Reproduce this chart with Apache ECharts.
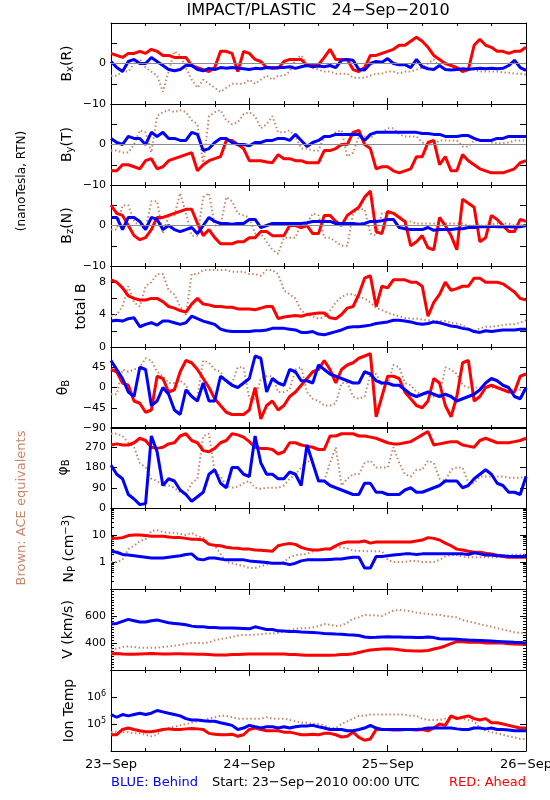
<!DOCTYPE html>
<html><head><meta charset="utf-8">
<script src="https://cdn.jsdelivr.net/npm/echarts@6/dist/echarts.min.js"></script>
<style>html,body{margin:0;padding:0;background:#fff}#c{width:550px;height:800px}</style>
</head><body><div id="c"></div>
<script>
// ---------- data (hourly, 23-Sep 00:00 .. 26-Sep 00:00) ----------
const dayLabels = ['23−Sep', '24−Sep', '25−Sep', '26−Sep'];
const titleText = 'IMPACT/PLASTIC   24−Sep−2010';

const bxBehind = [0.5,-1,-2,0.5,1,0,0,1.5,0.5,-0.5, -1.5,-1.8,-1.5,-0.5,-0.5,-1.5,-1.8,-1.2,-1.5,-1, -1.2,-1,-1.2,-1.3,-1.5,-1.2,-1.3,-1,-1.2,-1, -1,-0.8,-1.2,-0.8,-0.5,-0.8,-0.6,-0.8,-0.5,-1, 0.8,1,0.8,-1.5,-1.6,0,0.5,0.3,1.2,0, -0.3,-0.3,-1,1,-0.8,-1.3,-1.5,-0.5,-1.5,-1.6, -1.5,-1.3,-1.4,-1.3,-1.2,-1.3,-1.2,-1.3,-1.2,-0.5, 0.8,-1,-1.7];
const bxAhead = [2.5,2,1.5,2.5,2.5,3,2.5,3.5,3,2, 2,1.5,1.5,1.5,-0.5,-1,-1.5,-2,-1,3, 3,2.5,-2,3,2.5,1,0.5,-1,-1,-1.2, 0.5,1,1,1,-0.5,-0.5,-0.3,1.5,3.5,1, 1,1,-1.5,-2,-1,2,2,2.5,3,3.5, 4.5,4.5,5.5,6.5,5.5,4,2,1,0,-0.5, -1,-2,-1.5,4.5,6,4.5,4,3,3,2.5, 3,3,4];
const bxAce = [-3,-3,-2,-2,0,1,-1,-2,-3,-7, -2,3,2,-1,-4,-6,-4,-5,-6,-7, -6,-5,-5,-5,-4,-5,-4,-3,-4,-3, -3,-2,1,2,0,-1,-1.5,-2,-2,-2.5, -2.5,-2.5,-3.5,-3.5,-3.5,-3,-2.5,-2.5,-2,-2, -2.5,-2,-2,-1.5,-1,0,1,-1,-1.5,-1.5, -1.5,-1.5,-1.5,-1.5,-2,-2,-2,-2,-2.2,-2.3, -2.5,-2.5,-2.7];

const byBehind = [1.5,0.5,0,2,1.5,1.5,0,3,2,3, 1.5,1.5,1,1,3,2.5,-1.5,-1,0.5,1.5, 1.5,0.5,0,0,-0.3,0.5,0.5,1,1, 1.5,1.5,1,2.5,1,-0.5,0.5,1,2,2,2.5, 2.5,2.5,2.5,2.5,1,2.5,3,3,3,3, 3,3,3,3,2.7,2.7,2.5,2.5,2,2, 2,2.2,2.2,1.5,1,1,1,1.5,1.5,2, 2,2,2];
const byAhead = [-6.5,-6.5,-5,-5,-5.5,-6,-4,-3.5,-6,-5.5, -4,-3.5,-3,-2.5,-2,-6.5,-5,-4,-3.5,-3, 1,1,0,-1,-4,-4,-4,-4.3,-4.5, -2.5,-3.5,-3.5,-4,-4,-4.5,-4.5,-4.5,-1.5,-1.5,-1, 0,0,3,3.5,0,-1,-6,-5.5,-5.5,-6.5, -7,-6.5,-6,-3,-3,0.5,1,-5,-3,-6.5, -6.5,-2.5,-4,-5,-6,-6.5,-7,-7,-7,-6.5, -6,-4.5,-4];
const byAce = [-1.5,-1.5,-2,-2,0,3.5,3,-2,7,8, 8.5,8,8.5,8,6,5,-5,7,8,8.5, 6,5,5.5,7.5,8,7,4,5,7, 3,3,3.5,2,-1,-1,-1.5,-1.5,2,2,3, 3.5,-3,-2,2,2,1.5,3,3,4,4, 2.5,2,2,2,0.5,0,0,1,1,1, 1,-0.5,-0.5,1,1,1,0.5,0.3,0.3,0.5, 1,1,1];

const bzBehind = [2,2,-1,2,2,1,-1,2,1.5,-1, 0,-1,-1.5,-1,-0.5,-2,0,2,1,0.5, 0.5,0.3,0.5,0.5,1.5,1.5,-0.5,0,0.5, 0.5,0.5,0.5,0.5,0.5,0.7,1,1,1,1,0.5, 0.5,0.5,0.5,0.3,0.5,1,1,1.2,1.5,1.5, -0.5,-0.8,-1,-1,-1,-0.5,-1.2,-1,-1,-1, -0.8,-0.8,-0.5,-0.5,-0.3,-0.3,-0.2,-0.3,-0.3,-0.3, -0.4,-0.3,0];
const bzAhead = [5,3,2.5,0,-2.5,-3.5,-3,-1,2,2, 2.5,3,3.5,4,4,0.5,-2.5,-1,-3,-4.5, -4.5,-4.5,-4,-4,-3,-3,-1.5,-1.5,-2.5, -2.5,-2.5,0,0,-0.5,0,-2,-2,2.5,2.5,1, 0,2.5,3.5,4.5,7,8.5,-1.5,-2,3.5,3, 2,1,-5,-4,-2.5,-5.5,-6,2,0,-2.5, -6,6.5,5.5,4.5,-4,-3,2.5,1.5,0,-1.5, -1.5,1.5,1];
const bzAce = [-1,-1,5,5,1,0,-1,6,6,-2, 2.5,2.5,8,3,-2.5,-2.5,7,8,0,0, 7,6,3,2.5,2,-2,-2,-4,-6, -7,-3,-3,-3,0.5,0.5,3,2.5,-3,-3,-4, -5,-5,3,4,4,-2,-2.5,3,3,3, 2.5,1,1,0.5,0.5,0.5,0.5,0.5,0.5,0.5, 0.5,0.5,0,0,0,0,0.3,0.5,0.5,0.5, 0,0,0];

const btBehind = [3.2,3.3,3.2,3.5,3.6,2.5,2.8,3,2.7,3.2, 3.2,3,2.8,3,3.8,3.5,3.2,3,2.8,2.2, 2,1.9,1.9,1.9,1.9,2,2,2.1,2.3, 2.3,2.3,2.2,2.1,1.8,1.8,1.9,1.6,1.5,1.7,1.9, 2.1,2.4,2.5,2.5,2.6,2.7,2.9,3,3.1,3.3, 3.3,3.2,3.1,2.9,2.8,2.9,3.1,3,2.8,2.6, 2.5,2.3,2.2,1.9,1.8,2,1.9,2,2.1,2.1, 2.1,2.2,2.2];
const btAhead = [8.3,8,7.3,6.3,6,5.8,5.8,6,6,5.6, 5,4.8,4.5,4.3,5.3,6,5.3,5.2,5,5, 4.9,4.9,4.7,4.7,4.7,4.6,4.8,5,5, 3.5,3.7,3.8,3.9,3.8,4,4.1,4.2,4.2,3.6,3.5, 4,4.8,5,6.5,8.5,8.8,5,7.5,7.3,8.3, 8.3,8.3,8,8,7.5,3.8,5.5,6.5,8,7, 7.2,7.5,7.5,8.5,8.5,8,8,8,7.8,7.3, 6.8,6,5.8];
const btAce = [3.8,4,5,7.5,5.5,5,7.5,8,9,9, 7,6.5,5,4,9,9,9.5,9.5,9.5,9.5, 9.5,9.3,9.3,9.3,9,9,8.8,9.5,9.5, 9,7,6.5,6,4.5,4,3.8,3.5,3.7,4.5,5.5, 6.2,6.5,6.5,6.2,6,5.5,4.8,4.6,4.2,4, 3.8,3.6,3.5,3.5,3.4,3.3,3.2,3.2,3.2,3, 2.9,2.7,2.2,2,2.3,2.5,2.5,2.6,2.7,2.8, 2.8,3,3.3];

const thBehind = [60,40,20,-10,-20,45,40,-40,-30,0, -15,-50,-60,-5,-20,-30,10,-30,-30,25, 15,5,0,10,20,70,65,-10,20, 10,5,40,35,15,15,10,50,40,30,25, 20,15,10,10,35,30,15,10,10,5, 5,-5,-15,-20,-15,-10,-15,-20,-15,-20, -30,-25,-20,-15,-5,10,20,15,5,0, -20,-25,0];
const thAhead = [40,35,10,5,-30,-35,-55,-50,25,20, -10,-5,35,60,55,40,20,0,-25,-40, -55,-60,-60,-60,-50,0,-70,-40,-30, -50,-40,-20,-10,5,20,35,40,60,40,10, 40,50,55,65,70,75,-65,-20,25,25, 20,-10,-25,-40,-45,-30,20,10,-40,-65, -20,55,60,-30,-20,0,5,0,-5,-10, -10,25,30];
const thAce = [-15,-15,40,35,40,45,65,60,35,25, 10,10,15,5,-20,-20,60,55,40,35, 10,10,45,45,-25,-25,20,25,25, -10,-10,-5,40,45,-10,-25,-30,-40,-40,-35, 10,10,-20,-25,-20,30,30,5,5,50, 45,10,5,-10,-15,-15,-20,-20,45,40, 30,5,0,0,0,0,0,0,-5,-5, -5,-5,-5];

const phBehind = [190,150,130,60,40,15,20,320,250,100, 130,120,80,60,30,50,70,150,170,110, 90,180,180,150,140,320,200,150,150, 130,130,160,150,100,280,200,120,120,100,90, 80,70,60,60,110,110,70,70,60,60, 60,80,90,70,70,80,90,100,120,120, 120,90,100,130,150,170,150,110,100,70, 70,60,140];
const phAhead = [280,285,280,280,290,310,300,270,265,270, 285,290,320,330,300,290,255,250,265,290, 300,330,325,315,295,270,265,265,260, 240,250,290,290,280,275,270,260,260,320,320, 330,330,330,320,320,315,310,300,290,285, 285,290,295,310,325,340,280,285,290,295, 295,280,275,270,300,310,300,290,290,290, 295,300,310];
const phAce = [330,330,320,290,270,200,180,130,120,100, 100,90,70,60,110,130,320,330,160,140, 100,90,95,110,120,90,85,90,90, 90,100,130,150,180,210,200,130,120,200,270, 100,130,150,150,200,210,180,180,180,270, 200,150,140,170,170,210,200,130,120,170, 180,180,110,110,140,140,140,140,140,135, 135,135,140];

const npBehind = [2.5,2.3,1.9,1.8,1.7,1.6,1.5,1.4,1.4,1.4, 1.5,1.6,1.7,1.9,2,1.3,1.2,1.4,1.4,1.3, 1.2,1.2,1.2,1.2,1.1,1.05,1,0.95,0.9, 0.9,0.9,0.8,0.9,1.1,1.2,1.2,1.2,1.2,1.25,1.3, 1.3,1.4,1.5,1.5,0.6,0.6,1.6,1.6,1.7,1.8, 1.9,2,2,1.9,2,2,2,2,2,2, 2,2,1.9,2.2,2,1.8,1.8,1.7,1.7,1.6, 1.6,1.6,1.6];
const npAhead = [7.5,7.5,8,9.5,10,10,9.5,9,9,9, 8.5,8,8,7.5,7,7,6.5,4.5,4.2,4, 3.5,3.3,3.2,3,3,2.8,2.7,2.6,2.5, 4,4.5,4.8,4.5,3.5,3,2.8,2.8,3,3,4, 5,5.5,5.5,5.5,6,5,5.5,5.5,5.5,5.5, 5.5,5.5,5.5,6,6.5,8,7.5,6.5,5,4, 3,2.8,2.5,2.3,2.3,2.1,2,1.8,1.6,1.5, 1.5,1.5,1.5];
const npAce = [1,1,1.2,3,4,6,7,14,15,13, 12,12,11,10,12,9,8,5,4,2, 1,0.9,0.8,0.7,0.6,0.6,0.7,0.8,0.9, 0.9,1,1.5,1.8,1.9,2,2.5,2.7,3,3.2,3.5, 3.5,3.2,2.6,2.6,2.5,2.5,2.5,2.5,1.2,1, 1,1,1.1,1.1,1,1,1,1.2,1.6,1.8, 1.8,1.6,1.5,1.5,1.5,1.5,1.5,1.5,1.6,1.8, 1.9,1.9,1.9];

const vBehind = [540,545,560,575,565,555,555,565,570,560, 550,545,540,535,525,520,520,515,515,512, 512,512,510,508,505,520,510,500,500, 490,488,485,485,482,480,478,475,470,468,466, 465,462,460,455,445,440,442,445,446,445, 445,443,442,440,440,445,440,432,430,430, 428,425,422,420,418,416,414,412,410,408, 405,403,400];
const vAhead = [320,322,318,316,316,318,320,322,320,318, 318,320,320,318,318,316,316,314,312,312, 312,314,314,316,318,318,318,318,318, 318,318,315,314,312,310,310,310,310,310,312, 315,315,320,330,340,348,352,355,358,356, 350,345,342,340,340,345,355,365,378,395, 410,410,405,405,405,400,400,400,400,395, 392,390,390];
const vAce = [350,360,370,375,370,365,365,365,365,370, 375,380,385,395,400,400,398,405,420,430, 435,445,455,460,460,462,465,470,470, 475,485,495,505,510,510,515,525,540,535,525, 530,550,580,590,610,605,605,600,620,640, 645,640,635,625,620,615,610,610,600,595, 590,570,560,550,540,530,520,510,500,490, 480,475,470];

const tBehind = [2.24e5,1.78e5,2.24e5,2.0e5,2.24e5,2.51e5,2.24e5,2.51e5,3.16e5,2.82e5, 2.51e5,2.24e5,2.0e5,1.58e5,1.41e5,1.41e5,1.32e5,1.26e5,1.26e5,1.12e5, 1.0e5,8.9e4,6.3e4,7.1e4,8.9e4,7.9e4,7.1e4,7.9e4,7.9e4, 7.1e4,7.9e4,7.1e4,7.9e4,8.5e4,8.5e4,8.9e4,7.9e4,7.1e4,6.3e4,6.3e4, 6.3e4,5.6e4,5.6e4,6.3e4,7.1e4,8.9e4,7.1e4,6.3e4,6.3e4,6.3e4, 6.3e4,6.3e4,6.3e4,6.3e4,6.6e4,7.1e4,7.1e4,7.1e4,7.1e4,7.1e4, 6.6e4,6.3e4,6.3e4,7.1e4,7.1e4,6.6e4,7.1e4,6.3e4,6.3e4,6.0e4, 5.6e4,5.6e4,5.6e4];
const tAhead = [4.0e4,4.0e4,6.3e4,7.1e4,6.3e4,5.6e4,5.2e4,5.2e4,5.6e4,6.3e4, 6.6e4,6.3e4,6.3e4,6.6e4,6.8e4,6.6e4,6.3e4,4.5e4,4.2e4,4.0e4, 4.0e4,4.2e4,3.5e4,4.0e4,6.3e4,7.1e4,6.3e4,5.6e4,5.6e4, 5.6e4,5.0e4,5.0e4,4.5e4,4.0e4,4.0e4,4.2e4,4.0e4,4.5e4,4.5e4,4.0e4, 3.3e4,3.5e4,5.0e4,3.2e4,2.5e4,2.8e4,6.3e4,6.3e4,6.3e4,6.0e4, 6.0e4,6.3e4,6.3e4,6.0e4,6.3e4,5.6e4,7.1e4,1.0e5,8.9e4,2.0e5, 1.58e5,1.78e5,2.0e5,1.58e5,1.41e5,1.58e5,1.12e5,1.12e5,1.0e5,8.9e4, 7.9e4,7.1e4,7.1e4];
const tAce = [5.0e4,5.2e4,5.0e4,5.0e4,4.5e4,4.5e4,4.0e4,3.5e4,4.0e4,6.3e4, 7.1e4,7.9e4,8.9e4,1.0e5,1.12e5,1.26e5,1.41e5,1.58e5,1.78e5,2.0e5, 2.0e5,1.78e5,1.58e5,1.58e5,1.58e5,1.58e5,1.58e5,1.78e5,1.58e5, 1.58e5,1.58e5,1.41e5,1.26e5,1.12e5,1.12e5,1.0e5,1.0e5,8.9e4,7.1e4,7.1e4, 1.0e5,1.26e5,1.58e5,2.0e5,2.0e5,2.24e5,2.24e5,2.24e5,2.24e5,2.24e5, 2.24e5,2.24e5,2.0e5,2.0e5,1.58e5,1.41e5,1.41e5,1.41e5,1.58e5,1.78e5, 1.78e5,1.58e5,1.41e5,1.26e5,7.1e4,5.6e4,5.0e4,4.5e4,4.0e4,3.5e4, 3.2e4,2.8e4,2.8e4];

// ---------- layout / styling ----------
const FONT = 'DejaVu Sans';
const BLUE = '#0000ff', RED = '#ff0000', BROWN = '#c8876b';
const panelTops = [23, 104, 185, 266, 347, 427, 508, 589, 670];
const panelH = 81;

const panels = [
  {name: 'B{sub|x}(R)', type: 'value', min: -10, max: 10, interval: 5, labels: [0, -10], gap: 36, zero: true, s: [bxAce, bxAhead, bxBehind]},
  {name: 'B{sub|y}(T)', type: 'value', min: -10, max: 10, interval: 5, labels: [0, -10], gap: 36, zero: true, s: [byAce, byAhead, byBehind]},
  {name: 'B{sub|z}(N)', type: 'value', min: -10, max: 10, interval: 5, labels: [0, -10], gap: 36, zero: true, s: [bzAce, bzAhead, bzBehind]},
  {name: 'total B', type: 'value', min: 0, max: 10, interval: 2, labels: [0, 4, 8], gap: 22, s: [btAce, btAhead, btBehind]},
  {name: 'θ{sub|B}', type: 'value', min: -90, max: 90, interval: 45, labels: [-90, -45, 0, 45], gap: 40, s: [thAce, thAhead, thBehind]},
  {name: 'φ{sub|B}', type: 'value', min: 0, max: 360, interval: 90, labels: [0, 90, 180, 270], gap: 40, s: [phAce, phAhead, phBehind]},
  {name: 'N{sub|P} (cm{sup|−3})', type: 'log', min: 0.1, max: 100, labels: [1, 10], gap: 34, minor: 9, s: [npAce, npAhead, npBehind]},
  {name: 'V (km/s)', type: 'value', min: 200, max: 800, interval: 200, labels: [400, 600], gap: 35, minor: 10, s: [vAce, vAhead, vBehind]},
  {name: 'Ion Temp', type: 'log', min: 1e4, max: 1e7, labels: [1e5, 1e6], gap: 34, pow: true, s: [tAce, tAhead, tBehind]}
];

const axisLine = {show: true, onZero: false, lineStyle: {color: '#000', width: 1}};
const grids = [], xAxes = [], yAxes = [], series = [];

panels.forEach((p, i) => {
  grids.push({left: 111, right: 24, top: panelTops[i], height: panelH, outerBoundsMode: 'none', containLabel: false});
  const last = i === panels.length - 1;
  ['bottom', 'top'].forEach(pos => {
    xAxes.push({
      type: 'value', gridIndex: i, position: pos, min: 0, max: 72, interval: 24,
      axisLine, splitLine: {show: false},
      axisTick: {show: true, inside: true, length: 6, lineStyle: {color: '#000'}},
      minorTick: {show: true, splitNumber: 4, length: 3, lineStyle: {color: '#000'}},
      axisLabel: {
        show: last && pos === 'bottom', margin: 7, color: '#000', fontFamily: FONT, fontSize: 13,
        formatter: v => dayLabels[Math.round(v / 24)] || ''
      }
    });
  });
  const isLabel = v => p.labels.some(l => Math.abs(l - v) < 1e-6 * Math.max(1, Math.abs(l)));
  ['left', 'right'].forEach(pos => {
    const ax = {
      type: p.type, gridIndex: i, position: pos, min: p.min, max: p.max,
      axisLine, splitLine: {show: false},
      axisTick: {show: true, inside: true, length: 6, lineStyle: {color: '#000'}},
      minorTick: {show: !!p.minor, splitNumber: p.minor || 5, length: 3, lineStyle: {color: '#000'}},
      axisLabel: {
        show: pos === 'left', margin: 5, color: '#000', fontFamily: FONT, fontSize: 11, lineHeight: 14,
        formatter: v => {
          if (!isLabel(v)) return '';
          if (p.pow) return '10{sup|' + Math.round(Math.log10(v)) + '}';
          return String(v).replace('-', '−');
        },
        rich: {sup: {fontSize: 8, lineHeight: 8, verticalAlign: 'top', fontFamily: FONT, color: '#000'}}
      }
    };
    if (p.type === 'value') ax.interval = p.interval;
    if (p.type === 'log') ax.logBase = 10;
    if (pos === 'left') {
      Object.assign(ax, {
        name: p.name, nameLocation: 'middle', nameRotate: 90, nameGap: p.gap, nameMoveOverlap: false,
        nameTextStyle: {
          color: '#000', fontFamily: FONT, fontSize: 14, lineHeight: 16,
          rich: {
            sub: {fontSize: 10, lineHeight: 9, verticalAlign: 'bottom', fontFamily: FONT, color: '#000'},
            sup: {fontSize: 10, lineHeight: 9, verticalAlign: 'top', fontFamily: FONT, color: '#000'}
          }
        }
      });
    }
    yAxes.push(ax);
  });
  const colors = [BROWN, RED, BLUE];
  p.s.forEach((arr, k) => {
    const s = {
      type: 'line', xAxisIndex: i * 2, yAxisIndex: i * 2, symbol: 'none', showSymbol: false,
      data: arr.map((v, h) => [h, v]), clip: true, z: 2 + k,
      lineStyle: {color: colors[k], width: k === 0 ? 2 : 3, type: k === 0 ? [1.5, 2.5] : 'solid'},
      itemStyle: {color: colors[k]}, emphasis: {disabled: true}
    };
    if (k === 0 && p.zero) {
      s.markLine = {silent: true, symbol: 'none', label: {show: false},
        lineStyle: {color: '#8c8c8c', width: 1, type: 'solid'}, data: [{yAxis: 0}]};
    }
    series.push(s);
  });
});

const chart = echarts.init(document.getElementById('c'), null, {renderer: 'canvas'});
chart.setOption({
  animation: false,
  backgroundColor: '#fff',
  grid: grids, xAxis: xAxes, yAxis: yAxes, series,
  graphic: [
    {type: 'text', x: 318, y: 11, style: {text: titleText, fill: '#000', font: '16px "DejaVu Sans"', textAlign: 'center', textVerticalAlign: 'middle'}},
    {type: 'text', x: 22, y: 181, rotation: Math.PI / 2, style: {text: '(nanoTesla, RTN)', fill: '#000', font: '12px "DejaVu Sans"', textAlign: 'center', textVerticalAlign: 'middle'}},
    {type: 'text', x: 22, y: 508, rotation: Math.PI / 2, style: {text: 'Brown: ACE equivalents', fill: BROWN, font: '13px "DejaVu Sans"', textAlign: 'center', textVerticalAlign: 'middle'}},
    {type: 'text', x: 111, y: 783, style: {text: 'BLUE: Behind', fill: BLUE, font: '13px "DejaVu Sans"', textAlign: 'left', textVerticalAlign: 'middle'}},
    {type: 'text', x: 212, y: 783, style: {text: 'Start: 23−Sep−2010 00:00 UTC', fill: '#000', font: '13px "DejaVu Sans"', textAlign: 'left', textVerticalAlign: 'middle'}},
    {type: 'text', x: 526, y: 783, style: {text: 'RED: Ahead', fill: RED, font: '13px "DejaVu Sans"', textAlign: 'right', textVerticalAlign: 'middle'}}
  ]
});
</script>
</body></html>
